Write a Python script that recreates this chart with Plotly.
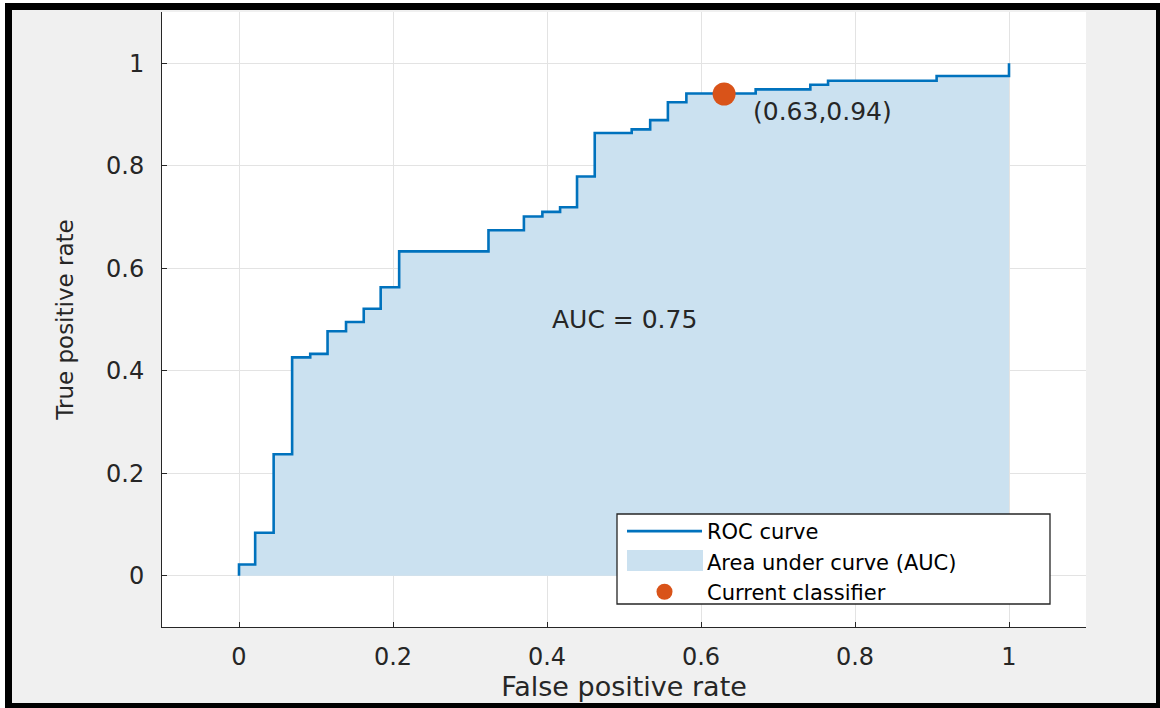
import plotly.graph_objects as go

# ---------------- data ----------------
fpr = [0, 0, 0.021, 0.045, 0.069, 0.0925, 0.115, 0.139, 0.162, 0.184, 0.208,
       0.324, 0.370, 0.394, 0.417, 0.439, 0.462, 0.510, 0.534, 0.557, 0.581,
       0.671, 0.742, 0.765, 0.906, 1.0]
tpr = [0, 0.022, 0.084, 0.237, 0.426, 0.433, 0.477, 0.495, 0.521, 0.563, 0.633,
       0.674, 0.701, 0.710, 0.719, 0.779, 0.864, 0.871, 0.889, 0.924, 0.941,
       0.949, 0.958, 0.966, 0.975, 1.0]
cls_x = [0.63]
cls_y = [0.94]
auc_value = 0.75
tick_vals = [0, 0.2, 0.4, 0.6, 0.8, 1]
tick_text = ["0", "0.2", "0.4", "0.6", "0.8", "1"]
series_names = ["ROC curve", "Area under curve (AUC)", "Current classifier"]

# ---------------- layout geometry ----------------
W, H = 1160, 708
ML, MR, MT, MB = 162, 74, 12, 81
PW, PH = W - ML - MR, H - MT - MB


def px(xp):
    return (xp - ML) / PW


def py(yp):
    return (H - MB - yp) / PH


FONT = "DejaVu Sans"
TXT = "#262626"
FILL = "#cbe1f0"
LINE = "#0072bd"
DOT = "#d95319"

fig = go.Figure()

fig.add_trace(go.Scatter(
    x=fpr, y=tpr, mode="lines", line=dict(shape="hv", width=0, color=FILL),
    fill="tozeroy", fillcolor=FILL, name=series_names[1], legendrank=2,
    hoverinfo="skip"))
fig.add_trace(go.Scatter(
    x=fpr, y=tpr, mode="lines", line=dict(shape="hv", width=2.6, color=LINE),
    name=series_names[0], legendrank=1))
fig.add_trace(go.Scatter(
    x=cls_x, y=cls_y, mode="markers",
    marker=dict(size=23, color=DOT, line=dict(width=0)),
    name=series_names[2], legendrank=3))

fig.add_annotation(x=0.5, y=0.5, text=f"AUC = {auc_value:.2f}", showarrow=False,
                   font=dict(family=FONT, size=25, color=TXT))
fig.add_annotation(x=cls_x[0] + 0.035, y=cls_y[0] - 0.035,
                   text=f"({cls_x[0]:.2f},{cls_y[0]:.2f})", showarrow=False,
                   xanchor="left", yanchor="middle",
                   font=dict(family=FONT, size=25, color=TXT))

shapes = []
# outer white strips + black frame
shapes.append(dict(type="rect", xref="paper", yref="paper", x0=px(0), x1=px(W), y0=py(0), y1=py(3),
                   fillcolor="white", line_width=0, layer="above"))
shapes.append(dict(type="rect", xref="paper", yref="paper", x0=px(0), x1=px(5), y0=py(0), y1=py(H),
                   fillcolor="white", line_width=0, layer="above"))
shapes.append(dict(type="rect", xref="paper", yref="paper", x0=px(5), x1=px(W), y0=py(3), y1=py(10),
                   fillcolor="black", line_width=0, layer="above"))
shapes.append(dict(type="rect", xref="paper", yref="paper", x0=px(5), x1=px(12), y0=py(3), y1=py(H),
                   fillcolor="black", line_width=0, layer="above"))
shapes.append(dict(type="rect", xref="paper", yref="paper", x0=px(1156), x1=px(W), y0=py(3), y1=py(H),
                   fillcolor="black", line_width=0, layer="above"))
shapes.append(dict(type="rect", xref="paper", yref="paper", x0=px(5), x1=px(W), y0=py(703), y1=py(H),
                   fillcolor="black", line_width=0, layer="above"))
# legend box and the wide patch of the area entry (legend itself is transparent on top)
shapes.append(dict(type="rect", xref="paper", yref="paper", x0=px(617), x1=px(1050), y0=py(604), y1=py(514),
                   fillcolor="white", line=dict(color=TXT, width=1.3), layer="above"))
shapes.append(dict(type="rect", xref="paper", yref="paper", x0=px(627), x1=px(703), y0=py(571), y1=py(550),
                   fillcolor=FILL, line_width=0, layer="above"))

axis_common = dict(
    tickvals=tick_vals, ticktext=tick_text, range=[-0.1, 1.1],
    showgrid=True, gridcolor="#e3e3e3", gridwidth=1, zeroline=False,
    showline=True, linecolor=TXT, linewidth=1, mirror=False,
    ticks="inside", ticklen=5, tickcolor=TXT, tickwidth=1,
    tickfont=dict(family=FONT, size=24, color=TXT),
)

fig.update_layout(
    width=W, height=H,
    margin=dict(l=ML, r=MR, t=MT, b=MB, autoexpand=False),
    paper_bgcolor="#f0f0f0", plot_bgcolor="white",
    xaxis=dict(axis_common, title=dict(text="False positive rate", standoff=4,
                                       font=dict(family=FONT, size=27, color=TXT)),
               ticklabelstandoff=8),
    yaxis=dict(axis_common, title=dict(text="True positive rate", standoff=25,
                                       font=dict(family=FONT, size=23, color=TXT)),
               ticklabelstandoff=12),
    showlegend=True,
    legend=dict(x=px(622), y=py(511), xanchor="left", yanchor="top",
                bgcolor="rgba(0,0,0,0)", borderwidth=0, itemwidth=75,
                font=dict(family=FONT, size=21, color="black"), tracegroupgap=0),
    shapes=shapes,
)

fig.write_html("out.html")
